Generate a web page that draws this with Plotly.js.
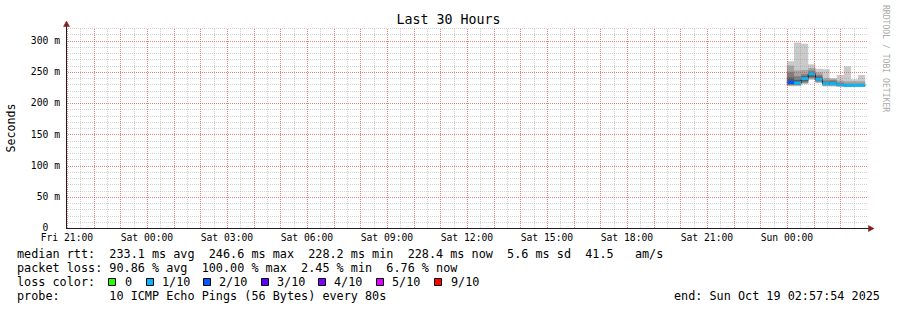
<!DOCTYPE html>
<html><head><meta charset="utf-8">
<script src="https://cdn.plot.ly/plotly-3.0.1.min.js"></script>
<style>html,body{margin:0;padding:0;background:#fff}#chart{width:897px;height:310px}</style>
</head><body><div id="chart"></div>
<script>
// ---- data ----
// 16-minute RRD step start times and the end of the final step
const stepTimes = ['2025-10-19 00:00:00','2025-10-19 00:16:00','2025-10-19 00:32:00','2025-10-19 00:48:00',
  '2025-10-19 01:04:00','2025-10-19 01:20:00','2025-10-19 01:36:00','2025-10-19 01:52:00',
  '2025-10-19 02:08:00','2025-10-19 02:24:00','2025-10-19 02:40:00'];
const lastStepEnd = '2025-10-19 02:56:00';
// sorted ping round-trip times (ms) for each step, rank 0 (min) .. rank 9 (max)
const ping0 = [227,227,230,237,232,226.5,226.5,226,226,226,226];
const ping1 = [228,228,231.5,238.5,233,227.5,227.5,227,226.5,226.5,226.5];
const ping2 = [229,229,233,240,234.5,228.5,228.5,227.5,227,227,227];
const ping3 = [230,230,235,242,235.5,229.5,229.5,228,227.5,227.5,227.5];
const ping4 = [231.5,231,238,245.5,237,230.5,230.5,228.5,228,228,228];
const ping5 = [234.5,233,240,247.5,239,231.5,232,229.5,228.5,228.5,228.5];
const ping6 = [241,237,243,249,242,233,234,231,229.5,229.5,229.5];
const ping7 = [250,243,246,252,245,236,236.5,233,231,231,231];
const ping8 = [260,252,253,256,249,240,238,236,235,235,235];
const ping9 = [267,297,295,262,255,254,240,245,259,238,245];
const medianRtt = [233,232,239,246.6,238,231,231,229,228.2,228.3,228.4];
const lossCount = [2,1,1,1,1,1,1,1,1,1,1];
// loss colour legend
const lossLabels = ['0','1/10','2/10','3/10','4/10','5/10','9/10'];
const lossColors = ['#26ff00','#00b8ff','#0059ff','#5e00ff','#7e00ff','#dd00ff','#ff0000'];
// axis ticks
const xTickTimes = ['2025-10-17 21:00','2025-10-18 00:00','2025-10-18 03:00','2025-10-18 06:00','2025-10-18 09:00',
  '2025-10-18 12:00','2025-10-18 15:00','2025-10-18 18:00','2025-10-18 21:00','2025-10-19 00:00'];
const xTickLabels = ['Fri 21:00','Sat 00:00','Sat 03:00','Sat 06:00','Sat 09:00','Sat 12:00','Sat 15:00','Sat 18:00','Sat 21:00','Sun 00:00'];
const yTickVals = [0,50,100,150,200,250,300];
const yTickLabels = ['0\u00a0\u00a0','50 m','100 m','150 m','200 m','250 m','300 m'];
// legend text
const statLines = [
  'median rtt:  233.1 ms avg  246.6 ms max  228.2 ms min  228.4 ms now  5.6 ms sd  41.5   am/s',
  'packet loss: 90.86 % avg  100.00 % max  2.45 % min  6.76 % now',
  'loss color:',
  'probe:       10 ICMP Echo Pings (56 Bytes) every 80s'
];
const endText = 'end: Sun Oct 19 02:57:54 2025';

// ---- geometry ----
const L = 66, T = 28, PW = 800, PH = 200;
const px = v => (v - L) / PW;
const py = v => (T + PH - v) / PH;
const FONT = 'DejaVu Sans Mono';
const rangeStart = '2025-10-17 20:57:54', rangeEnd = '2025-10-19 02:57:54';
const yMax = 320;

const xs = stepTimes.concat([lastStepEnd]);
const stepY = a => a.concat([a[a.length - 1]]);
const ranks = [ping0,ping1,ping2,ping3,ping4,ping5,ping6,ping7,ping8,ping9];
const shades = ['#cacaca','#a4a4a4','#7e7e7e','#585858','#323232'];

const traces = [];
for (let k = 0; k < 5; k++) {
  traces.push({x: xs, y: stepY(ranks[k]), type: 'scatter', mode: 'lines',
    line: {width: 0, shape: 'hv'}, hoverinfo: 'skip', showlegend: false});
  traces.push({x: xs, y: stepY(ranks[9 - k]), type: 'scatter', mode: 'lines',
    line: {width: 0, shape: 'hv'}, fill: 'tonexty', fillcolor: shades[k], hoverinfo: 'skip', showlegend: false});
}
traces.push({x: xs, y: stepY(medianRtt), type: 'scatter', mode: 'lines',
  line: {width: 1, shape: 'hv', color: '#202020'}, hoverinfo: 'skip', showlegend: false});
const lossIdx = c => c >= 9 ? 6 : (c >= 5 ? 5 : c);
const groups = {};
for (let i = 0; i < medianRtt.length; i++) {
  const g = lossIdx(lossCount[i]);
  if (!groups[g]) groups[g] = {x: [], y: []};
  groups[g].x.push(xs[i], xs[i + 1], null);
  groups[g].y.push(medianRtt[i], medianRtt[i], null);
}
Object.keys(groups).forEach(g => {
  traces.push({x: groups[g].x, y: groups[g].y, type: 'scatter', mode: 'lines', connectgaps: false,
    line: {width: 3, color: lossColors[g]}, hoverinfo: 'skip', showlegend: false, name: lossLabels[g]});
});

// ---- grid (drawn above the smoke, like rrdtool), snapped to pixel centres ----
const shapes = [];
const GRID = 'rgba(143,143,143,0.4)', MGRID = 'rgba(222,79,79,0.7)';
const t0 = Date.parse('2025-10-17T20:57:54Z'), tEnd = Date.parse('2025-10-19T02:57:54Z');
const g0 = Date.parse('2025-10-17T21:00:00Z');
const msPerPx = (tEnd - t0) / PW;
for (let t = g0, n = 0; t <= tEnd; t += 1800000, n++) {
  const xpix = Math.round(L + (t - t0) / msPerPx) + 0.5;
  shapes.push({type: 'line', layer: 'above', xref: 'paper', yref: 'paper', x0: px(xpix), x1: px(xpix), y0: 0, y1: 1,
    line: {color: n % 2 === 0 ? MGRID : GRID, width: 1, dash: '1px,1px'}});
}
for (let v = 10; v <= yMax; v += 10) {
  const ypix = Math.round(T + PH - v * PH / yMax) + 0.5;
  shapes.push({type: 'line', layer: 'above', xref: 'paper', yref: 'paper', x0: 0, x1: px(868), y0: py(ypix), y1: py(ypix),
    line: {color: v % 50 === 0 ? MGRID : GRID, width: 1, dash: '1px,1px'}});
}
// axes with arrows
const AXIS = '#1f1f1f', ARROW = '#801f1f';
shapes.push({type: 'line', layer: 'above', xref: 'paper', yref: 'paper', x0: px(66), x1: px(869), y0: py(228.5), y1: py(228.5), line: {color: AXIS, width: 1}});
shapes.push({type: 'line', layer: 'above', xref: 'paper', yref: 'paper', x0: px(66.5), x1: px(66.5), y0: py(229), y1: py(25), line: {color: AXIS, width: 1}});
shapes.push({type: 'path', layer: 'above', xref: 'paper', yref: 'paper',
  path: `M${px(63.5)},${py(26.5)} L${px(66.5)},${py(21)} L${px(69.5)},${py(26.5)} Z`, fillcolor: ARROW, line: {color: ARROW, width: 0.5}});
shapes.push({type: 'path', layer: 'above', xref: 'paper', yref: 'paper',
  path: `M${px(868.5)},${py(225.5)} L${px(874)},${py(228.5)} L${px(868.5)},${py(231.5)} Z`, fillcolor: ARROW, line: {color: ARROW, width: 0.5}});

// ---- legend text ----
const annotations = [];
const lineY = [254, 268, 282, 296];
const nb = s => s.replace(/ /g, '\u00a0');
statLines.forEach((s, li) => annotations.push({
  text: nb(s), xref: 'paper', yref: 'paper', x: px(16), y: py(lineY[li]), xanchor: 'left', yanchor: 'middle',
  showarrow: false, borderpad: 0, font: {family: FONT, size: 11.8, color: '#000'}}));
const boxX = [108,146,203,261,318,376,434];
const labX = [124,160.5,218,276,333,390.5,450];
lossLabels.forEach((lab, i) => {
  shapes.push({type: 'rect', xref: 'paper', yref: 'paper', x0: px(boxX[i] + 0.5), x1: px(boxX[i] + 7.5),
    y0: py(278.5), y1: py(285.5), fillcolor: lossColors[i], line: {color: '#000', width: 1}});
  annotations.push({text: lab, xref: 'paper', yref: 'paper', x: px(labX[i]), y: py(lineY[2]), xanchor: 'left', yanchor: 'middle',
    showarrow: false, borderpad: 0, font: {family: FONT, size: 11.8, color: '#000'}});
});
annotations.push({text: nb(endText), xref: 'paper', yref: 'paper', x: px(881), y: py(lineY[3]), xanchor: 'right', yanchor: 'middle',
  showarrow: false, borderpad: 0, font: {family: FONT, size: 11.8, color: '#000'}});
annotations.push({text: 'RRDTOOL / TOBI OETIKER', xref: 'paper', yref: 'paper', x: px(886), y: py(59), xanchor: 'center', yanchor: 'middle',
  textangle: 90, showarrow: false, borderpad: 0, font: {family: FONT, size: 8.1, color: '#ababab'}});

const layout = {
  width: 897, height: 310,
  margin: {l: L, r: 897 - L - PW, t: T, b: 310 - T - PH, pad: 0},
  paper_bgcolor: '#ffffff', plot_bgcolor: '#ffffff',
  showlegend: false,
  title: {text: 'Last 30 Hours', font: {family: FONT, size: 13.3, color: '#000'},
    x: 0.5, xref: 'container', xanchor: 'center', y: 1 - 19.4 / 310, yref: 'container', yanchor: 'middle'},
  xaxis: {type: 'date', range: [rangeStart, rangeEnd], showgrid: false, zeroline: false, showline: false,
    tickmode: 'array', tickvals: xTickTimes, ticktext: xTickLabels, ticks: '', ticklabelstandoff: 2,
    tickfont: {family: FONT, size: 9.7, color: '#000'}, fixedrange: true},
  yaxis: {range: [0, yMax], showgrid: false, zeroline: false, showline: false,
    tickmode: 'array', tickvals: yTickVals, ticktext: yTickLabels, ticks: '', ticklabelstandoff: 5,
    tickfont: {family: FONT, size: 9.7, color: '#000'}, fixedrange: true,
    title: {text: 'Seconds', font: {family: FONT, size: 11.6, color: '#000'}, standoff: 12}},
  shapes: shapes, annotations: annotations
};
Plotly.newPlot('chart', traces, layout, {staticPlot: true, displayModeBar: false});
</script></body></html>
